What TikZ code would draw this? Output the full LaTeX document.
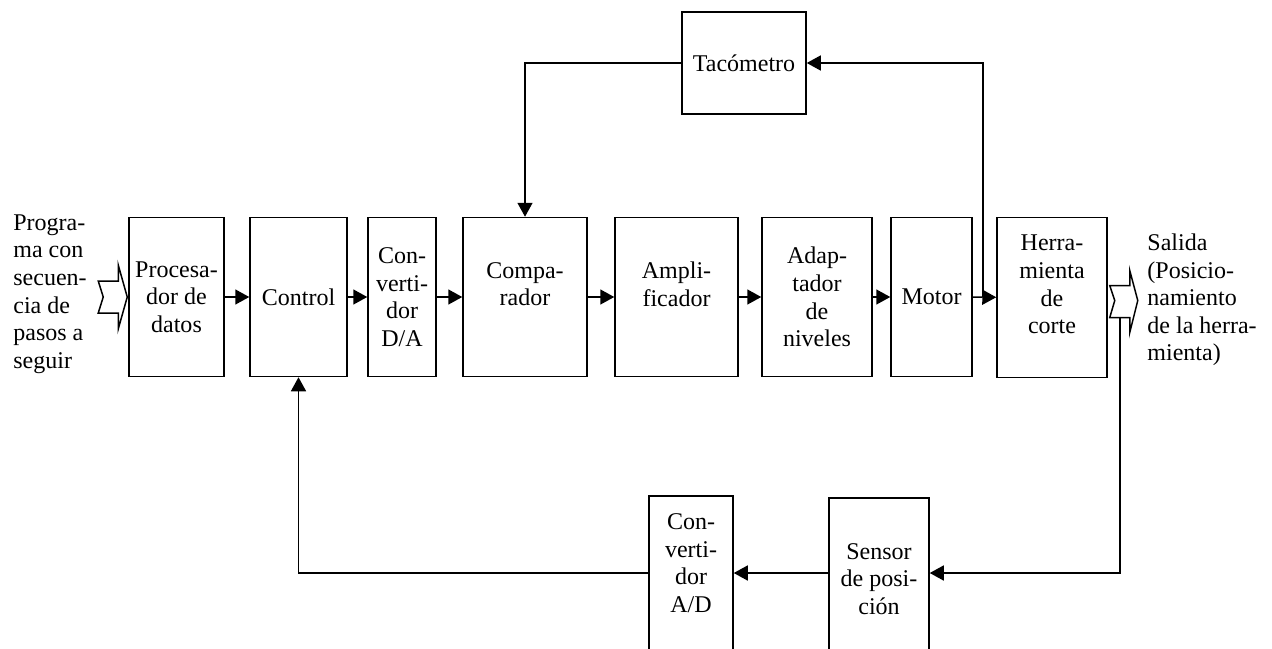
\documentclass[tikz,border=0pt]{standalone}
\usepackage{fontspec}
\setmainfont{Liberation Serif}
\usetikzlibrary{arrows.meta}

\begin{document}
\begin{tikzpicture}[x=0.5pt,y=-0.5pt,
  box/.style={draw,line width=0.75pt,align=center,inner sep=1pt,font=\fontsize{12}{13.8}\selectfont},
  txt/.style={inner sep=0pt,font=\fontsize{12}{13.8}\selectfont},
  arr/.style={line width=0.75pt,-{Triangle[length=7pt,width=7.5pt]}}]
\clip (0,0) rectangle (1272,648);
% main chain
\node [txt,anchor=west,align=left] (prog) at (13,294) {Progra-\\ma con\\secuen-\\cia de\\pasos a\\seguir};
\node [box,minimum width=47.5pt,minimum height=79.5pt] (proc) at (176.5,297) {Procesa-\\dor de\\datos};
\node [box,minimum width=48.5pt,minimum height=79.5pt] (ctrl) at (298.5,297) {Control};
\node [box,minimum width=34pt,minimum height=79.5pt] (da) at (402,297) {Con-\\verti-\\dor\\D/A};
\node [box,minimum width=62pt,minimum height=79.5pt,
  label={[txt,align=center,yshift=6.5pt]center:Compa-\\rador}] (comp) at (525,297) {};
\node [box,minimum width=61.5pt,minimum height=79.5pt,
  label={[txt,align=center,yshift=6.5pt]center:Ampli-\\ficador}] (amp) at (676.5,297) {};
\node [box,minimum width=55pt,minimum height=79.5pt] (adap) at (817,297) {Adap-\\tador\\de\\niveles};
\node [box,minimum width=40.5pt,minimum height=79.5pt] (motor) at (931.5,297) {Motor};
\node [box,minimum width=55pt,minimum height=80pt,
  label={[txt,align=center,yshift=6.5pt]center:Herra-\\mienta\\de\\corte}] (herr) at (1052,297.5) {};
\node [txt,anchor=west,align=left] (sal) at (1147,300) {Salida\\(Posicio-\\namiento\\de la herra-\\mienta)};
% feedback blocks (lower ones run past the bottom edge)
\node [box,minimum width=62pt,minimum height=51pt] (taco) at (744,63) {Tacómetro};
\node [box,minimum width=50pt,minimum height=81pt] (sens) at (879,579) {Sensor\\de posi-\\ción};
\node [box,minimum width=42pt,minimum height=87pt,
  label={[txt,align=center,yshift=10pt]center:Con-\\verti-\\dor\\A/D}] (ad) at (691,583) {};
\coordinate (tap) at (983,297);
\coordinate (bajada) at (1120,317);
\coordinate (fb) at (0,573);

% input and output
\draw [line width=0.75pt,shift={(proc.west)}] (-30,-16) -- (-10,-16) -- (-10,-32) -- (-1,0)
  -- (-10,32) -- (-10,16) -- (-30,16) -- (-25,0) -- cycle;
\draw [line width=0.75pt,shift={(herr.east)}] (2,-12) -- (22,-12) -- (22,-27) -- (30,3)
  -- (22,35) -- (22,20) -- (2,20) -- (7,3) -- cycle;

\draw [arr] (proc) -- (ctrl);
\draw [arr] (ctrl) -- (da);
\draw [arr] (da) -- (comp);
\draw [arr] (comp) -- (amp);
\draw [arr] (amp) -- (adap);
\draw [arr] (adap) -- (motor);
\draw [arr] (motor) -- (herr);
\draw [arr] (tap) |- (taco);
\draw [arr] (taco) -| (comp);
\draw [arr] (bajada) |- (sens.east |- fb);
\draw [arr] (sens.west |- fb) -- (ad.east |- fb);
\draw [arr] (ad.west |- fb) -| (ctrl);
\end{tikzpicture}
\end{document}
